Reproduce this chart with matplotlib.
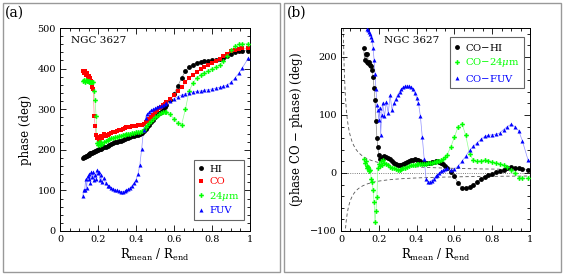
import numpy as np
import matplotlib
matplotlib.use("Agg")
import matplotlib.pyplot as plt
from matplotlib.ticker import MultipleLocator
from matplotlib.patches import Rectangle

plt.rcParams['font.family'] = ['DejaVu Serif']
plt.rcParams['mathtext.fontset'] = 'dejavuserif'

# shared radius grid (R_mean / R_end)
r = [0.120, 0.125, 0.130, 0.135, 0.140, 0.145, 0.150, 0.155, 0.160, 0.165,
     0.170, 0.175, 0.180, 0.185, 0.190, 0.195, 0.200, 0.205, 0.210, 0.215,
     0.220,
     0.23, 0.24, 0.25, 0.26, 0.27, 0.28, 0.29, 0.30, 0.31, 0.32, 0.33, 0.34,
     0.35, 0.36, 0.37, 0.38, 0.39, 0.40, 0.41, 0.42, 0.43, 0.44, 0.45, 0.46,
     0.47, 0.48, 0.49, 0.50, 0.51, 0.52, 0.53, 0.54, 0.55, 0.56,
     0.58, 0.60, 0.62, 0.64, 0.66, 0.68, 0.70, 0.72, 0.74, 0.76, 0.78, 0.80,
     0.82, 0.84, 0.86, 0.88, 0.90, 0.92, 0.94, 0.96, 0.99]

# ---- panel (a): phase (deg)
phase_hi = [180, 181.5, 183, 184, 185.5, 187, 188, 189.5, 191, 192,
            193, 194.5, 195.5, 197, 198, 199, 200, 201, 202, 203,
            204,
            206, 208, 210, 212, 214, 216, 218, 219, 221, 222, 224, 226,
            228, 230, 231, 233, 234, 236, 237, 239, 242, 246, 251, 257,
            262, 268, 274, 280, 285, 290, 294, 299, 305, 311,
            322, 338, 357, 377, 394, 404, 410, 414, 417, 418, 419, 420,
            421, 423, 427, 432, 437, 440, 443, 444, 444]
phase_co = [395, 388, 393, 385, 390, 380, 383, 375, 378, 370,
            355, 350, 283, 258, 236, 230, 232, 225, 228, 235,
            230,
            238, 235, 237, 240, 241, 243, 245, 247, 248, 250, 251, 253,
            255, 256, 257, 258, 259, 259, 260, 260, 261, 263, 268, 272,
            276, 281, 286, 292, 297, 302, 306, 310, 314, 317,
            324, 334, 344, 354, 366, 377, 385, 392, 398, 403, 408, 413,
            418, 424, 430, 437, 443, 447, 449, 450, 450]
phase_24 = [370, 372, 368, 371, 369, 370, 368, 369, 367, 368,
            366, 366, 345, 322, 283, 216, 212, 218, 212, 220,
            215,
            220, 222, 224, 226, 228, 229, 231, 232, 233, 235, 236, 237,
            238, 239, 240, 241, 242, 243, 244, 245, 247, 250, 255, 260,
            265, 270, 275, 280, 284, 287, 290, 292, 293, 292,
            287, 276, 265, 262, 300, 345, 365, 377, 385, 390, 395, 400,
            404, 409, 418, 432, 445, 455, 460, 461, 461]
phase_fuv = [86, 102, 100, 128, 105, 135, 128, 140, 118, 145,
             132, 146, 125, 138, 128, 150, 142, 146, 125, 138,
             120,
             130, 118, 112, 110, 107, 104, 102, 100, 98, 97, 97, 98,
             100, 103, 107, 112, 118, 126, 140, 162, 203, 250, 278, 288,
             293, 297, 300, 302, 305, 307, 309, 311, 313, 316,
             320, 326, 331, 335, 338, 340, 342, 344, 345, 347, 348, 350,
             352, 354, 356, 360, 366, 376, 388, 402, 425]

# ---- panel (b): phase CO - phase (deg)
diff_hi = [215, 194, 206, 192, 205, 190, 192, 186, 184, 178,
           165, 146, 126, 90, 61, 44, 31, 24, 24, 26,
           27,
           29, 28, 26, 24, 21, 18, 16, 14, 13, 14, 15, 17,
           19, 21, 22, 23, 24, 23, 22, 20, 18, 17, 17, 18,
           18, 19, 19, 20, 20, 19, 18, 15, 12, 8,
           2, -6, -18, -25, -26, -24, -20, -15, -10, -7, -4, -1,
           1, 3, 5, 9, 10, 9, 8, 7, 6]
diff_24 = [24, 18, 20, 12, 8, 10, 4, 6, -10, -15,
           -30, -50, -84, -65, -41, 8, 16, 12, 20, 14,
           22,
           18, 16, 13, 11, 9, 8, 7, 6, 6, 7, 8, 9,
           11, 12, 13, 14, 14, 15, 15, 15, 15, 15, 16, 17,
           18, 18, 19, 19, 20, 21, 22, 24, 27, 31,
           44, 62, 80, 85, 65, 33, 22, 20, 21, 22, 21, 19,
           18, 16, 14, 10, 5, 0, -8, -9, -9]
diff_fuv = [290, 275, 262, 255, 249, 246, 243, 240, 235, 229,
            215, 195, 170, 145, 118, 108, 91, 112, 66, 100,
            121,
            98, 122, 103, 134, 108, 120, 128, 135, 140, 145, 148, 150,
            150, 150, 148, 144, 138, 130, 120, 98, 62, 25, -10, -15,
            -15, -13, -10, -6, -3, 0, 3, 5, 7, 8,
            5, 7, 12, 20, 29, 39, 46, 52, 58, 63, 65, 66,
            67, 69, 75, 80, 84, 80, 73, 55, 22]

# resolution envelope parameters (model curves: offset + scale / R)
env_up_a, env_up_b = 3.0, 3.0
env_lo_a, env_lo_b = 2.2, 3.0

W, H = 564, 274
fig = plt.figure(figsize=(W / 100, H / 100), dpi=100)

# panel frames
for x0 in (2.5, 283.5):
    fig.patches.append(Rectangle((x0 / W, 2.5 / H), 277 / W, 269 / H,
                                 transform=fig.transFigure, fill=False,
                                 edgecolor='#999999', linewidth=1.0))

fig.text(5 / W, 1 - 13 / H, '(a)', fontsize=10, va='center', ha='left')
fig.text(287 / W, 1 - 13 / H, '(b)', fontsize=10, va='center', ha='left')

ax1 = fig.add_axes([60 / W, 1 - 231 / H, 190 / W, 203 / H])
ax2 = fig.add_axes([341 / W, 1 - 231 / H, 189 / W, 203 / H])

line_kw = dict(linewidth=0.5)

def series(ax, y, color, lcolor, marker, ms, label):
    ax.plot(r, y, '-', color=lcolor, zorder=2, **line_kw)
    ax.plot(r, y, linestyle='none', marker=marker, color=color,
            markersize=ms, markeredgewidth=0, label=label, zorder=3)

series(ax1, phase_hi, 'black', '#888888', 'o', 3.5, 'HI')
series(ax1, phase_co, 'red', '#ff9090', 's', 2.7, 'CO')
series(ax1, phase_24, '#00ff00', '#90ff90', 'P', 3.4, r'24$\mu$m')
series(ax1, phase_fuv, 'blue', '#9090ff', '^', 2.9, 'FUV')

rr = np.linspace(0.005, 1.0, 400)
ax2.plot(rr, env_up_b + env_up_a / rr, '--', color='#555555', linewidth=0.6,
         dashes=(4, 3), zorder=1)
ax2.plot(rr, -(env_lo_b + env_lo_a / rr), '--', color='#555555', linewidth=0.6,
         dashes=(4, 3), zorder=1)
ax2.axhline(0, color='#555555', linestyle=':', linewidth=0.6, zorder=1)

series(ax2, diff_hi, 'black', '#888888', 'o', 3.5, 'CO$-$HI')
series(ax2, diff_24, '#00ff00', '#90ff90', 'P', 3.4, r'CO$-$24$\mu$m')
series(ax2, diff_fuv, 'blue', '#9090ff', '^', 2.9, 'CO$-$FUV')

ax1.set_xlim(0, 1)
ax1.set_ylim(0, 500)
ax2.set_xlim(0, 1)
ax2.set_ylim(-100, 250)

for ax in (ax1, ax2):
    ax.xaxis.set_major_locator(MultipleLocator(0.2))
    ax.xaxis.set_minor_locator(MultipleLocator(0.05))
    ax.yaxis.set_major_locator(MultipleLocator(100))
    ax.yaxis.set_minor_locator(MultipleLocator(20))
    ax.tick_params(which='both', direction='in', top=True, right=True,
                   labelsize=7, width=0.6)
    ax.tick_params(which='major', length=4, pad=3)
    ax.tick_params(which='minor', length=2)
    for s in ax.spines.values():
        s.set_linewidth(0.7)
    ax.set_xticks([0, 0.2, 0.4, 0.6, 0.8, 1.0])
    ax.set_xticklabels(['0', '0.2', '0.4', '0.6', '0.8', '1'])
    ax.set_xlabel(r'R$_{\mathrm{mean}}$ / R$_{\mathrm{end}}$', fontsize=8.5, labelpad=2)
    ax.text(0.06 if ax is ax1 else 0.23, 0.94, 'NGC 3627', transform=ax.transAxes,
            fontsize=7.5, ha='left', va='center')

ax1.set_ylabel('phase (deg)', fontsize=8.5, labelpad=4)
ax2.set_ylabel('(phase CO $-$ phase) (deg)', fontsize=8.5, labelpad=4)

leg_kw = dict(fontsize=7.2, labelcolor='linecolor', fancybox=False,
              edgecolor='#666666', framealpha=1, handlelength=0.6,
              handletextpad=0.5, borderpad=0.45, labelspacing=0.35,
              borderaxespad=0.0, markerscale=1.0)
l1 = ax1.legend(loc='lower right', bbox_to_anchor=(0.97, 0.055), **leg_kw)
l2 = ax2.legend(loc='upper right', bbox_to_anchor=(0.97, 0.955), **leg_kw)
for l in (l1, l2):
    l.get_frame().set_linewidth(0.8)

fig.savefig('out.png', dpi=100)
